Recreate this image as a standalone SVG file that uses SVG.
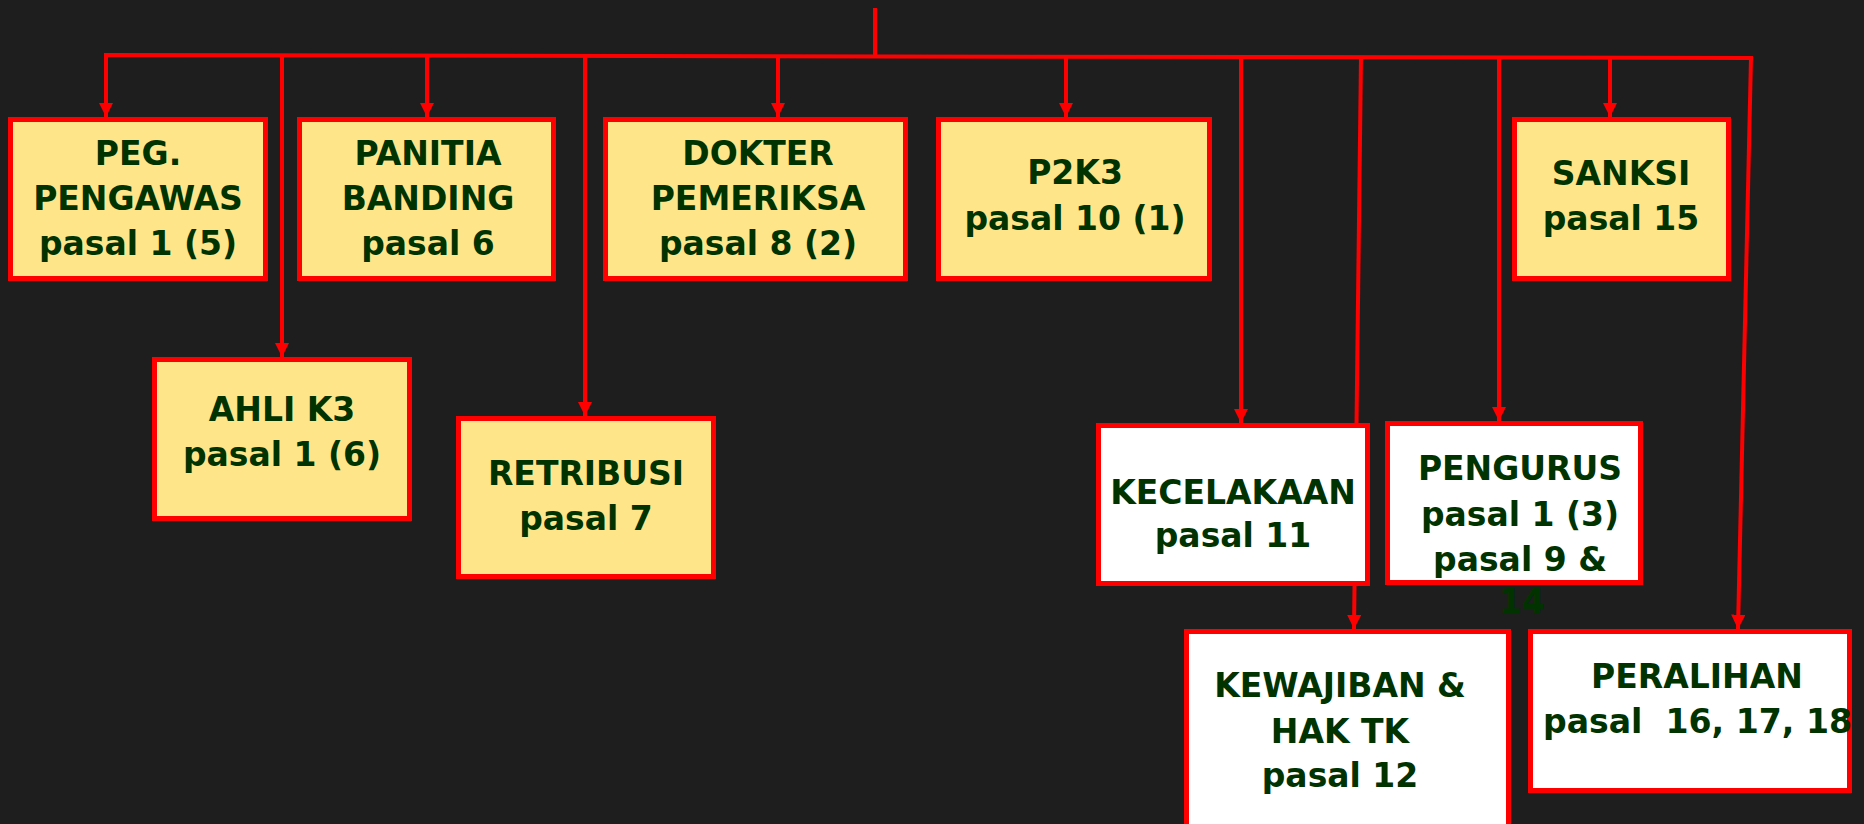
<svg xmlns="http://www.w3.org/2000/svg" width="1864" height="824" viewBox="0 0 1864 824">
<style>
.bg{fill:#1e1e1e}
.c{stroke:#ff0000;stroke-width:4;fill:none}
.y{fill:#ffe58a;stroke:#ff0000;stroke-width:5}
.w{fill:#ffffff;stroke:#ff0000;stroke-width:5}
text{font-family:"DejaVu Sans","Liberation Sans",sans-serif;font-weight:bold;font-size:33px;fill:#003300;text-anchor:middle}
</style>
<defs>
<marker id="ah" viewBox="0 0 10 10" refX="10" refY="5" markerWidth="3.6" markerHeight="3.6" orient="auto" markerUnits="strokeWidth">
<path d="M0,0 L10,5 L0,10 Z" fill="#ff0000"/>
</marker>
</defs>
<rect class="bg" x="0" y="0" width="1864" height="824"/>
<g id="connectors">
<path class="c" d="M875,8 V56"/>
<path class="c" d="M104,55 L1753,58"/>
<path class="c" d="M106,55 V117" marker-end="url(#ah)"/>
<path class="c" d="M282,55 V357" marker-end="url(#ah)"/>
<path class="c" d="M427,55 V117" marker-end="url(#ah)"/>
<path class="c" d="M585,56 V416" marker-end="url(#ah)"/>
<path class="c" d="M778,56 V117" marker-end="url(#ah)"/>
<path class="c" d="M1066,57 V117" marker-end="url(#ah)"/>
<path class="c" d="M1241,57 V423" marker-end="url(#ah)"/>
<path class="c" d="M1361,57 L1354,629" marker-end="url(#ah)"/>
<path class="c" d="M1499,58 V421" marker-end="url(#ah)"/>
<path class="c" d="M1610,58 V117" marker-end="url(#ah)"/>
<path class="c" d="M1751,58 L1738,629" marker-end="url(#ah)"/>
</g>
<g id="peg-pengawas">
<rect class="y" x="10.5" y="119.5" width="255" height="159"/>
<text x="138" y="165">PEG.</text>
<text x="138" y="210">PENGAWAS</text>
<text x="138" y="255">pasal 1 (5)</text>
</g>
<g id="panitia-banding">
<rect class="y" x="299.5" y="119.5" width="254" height="159"/>
<text x="428" y="165">PANITIA</text>
<text x="428" y="210">BANDING</text>
<text x="428" y="255">pasal 6</text>
</g>
<g id="dokter-pemeriksa">
<rect class="y" x="605.5" y="119.5" width="300" height="159"/>
<text x="758" y="165">DOKTER</text>
<text x="758" y="210">PEMERIKSA</text>
<text x="758" y="255">pasal 8 (2)</text>
</g>
<g id="p2k3">
<rect class="y" x="938.5" y="119.5" width="271" height="159"/>
<text x="1075" y="184">P2K3</text>
<text x="1075" y="230">pasal 10 (1)</text>
</g>
<g id="sanksi">
<rect class="y" x="1514.5" y="119.5" width="214" height="159"/>
<text x="1621" y="185">SANKSI</text>
<text x="1621" y="230">pasal 15</text>
</g>
<g id="ahli-k3">
<rect class="y" x="154.5" y="359.5" width="255" height="159"/>
<text x="282" y="421">AHLI K3</text>
<text x="282" y="466">pasal 1 (6)</text>
</g>
<g id="retribusi">
<rect class="y" x="458.5" y="418.5" width="255" height="158"/>
<text x="586" y="485">RETRIBUSI</text>
<text x="586" y="530">pasal 7</text>
</g>
<g id="kecelakaan">
<rect class="w" x="1098.5" y="425.5" width="269" height="158"/>
<text x="1233" y="504">KECELAKAAN</text>
<text x="1233" y="547">pasal 11</text>
</g>
<g id="pengurus">
<rect class="w" x="1387.5" y="423.5" width="253" height="159"/>
<text x="1520" y="480">PENGURUS</text>
<text x="1520" y="526">pasal 1 (3)</text>
<text x="1520" y="571">pasal 9 &amp;</text>
<text x="1522" y="613">14</text>
</g>
<g id="kewajiban">
<rect class="w" x="1186.5" y="631.5" width="322" height="210"/>
<text x="1340" y="697">KEWAJIBAN &amp;</text>
<text x="1340" y="743">HAK TK</text>
<text x="1340" y="787">pasal 12</text>
</g>
<g id="peralihan">
<rect class="w" x="1530.5" y="631.5" width="319" height="159"/>
<text x="1697" y="688">PERALIHAN</text>
<text x="1543" y="733" xml:space="preserve" style="text-anchor:start" textLength="309" lengthAdjust="spacingAndGlyphs">pasal  16, 17, 18</text>
</g>
</svg>
